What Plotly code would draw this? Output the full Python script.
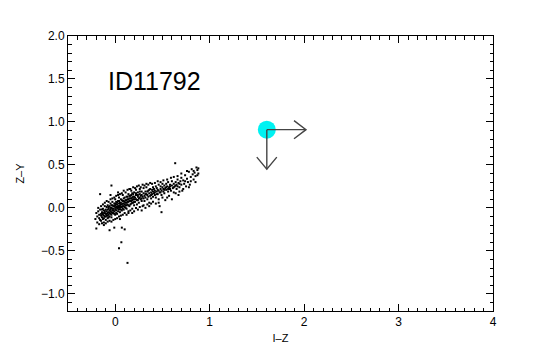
import plotly.graph_objects as go

# I-Z (x) and Z-Y (y) colours of the cloud of points
pts = [
    (-0.21,-0.13),(-0.20,-0.06),(-0.19,-0.10),(-0.18,-0.04),(-0.17,-0.12),(-0.17,-0.08),(-0.16,0.16),(-0.16,-0.02),(-0.15,-0.15),(-0.15,-0.07),(-0.20,-0.24),
    (-0.14,-0.05),(-0.14,-0.11),(-0.13,-0.01),(-0.13,-0.08),(-0.13,-0.13),(-0.12,-0.03),(-0.12,-0.09),(-0.12,-0.17),(-0.11,0.02),(-0.11,-0.06),(-0.11,-0.10),(-0.10,-0.02),(-0.10,-0.07),(-0.10,-0.14),(-0.04,0.26),
    (-0.09,-0.04),(-0.09,0.01),(-0.09,-0.09),(-0.08,-0.06),(-0.08,0.03),(-0.08,-0.12),(-0.07,-0.01),(-0.07,-0.05),(-0.07,-0.08),(-0.06,0.02),(-0.06,-0.03),(-0.06,-0.10),(-0.06,-0.26),(-0.05,0.05),(-0.05,-0.02),(-0.05,-0.07),(-0.05,0.15),
    (-0.04,0.00),(-0.04,-0.05),(-0.04,-0.11),(-0.03,0.03),(-0.03,-0.03),(-0.03,0.07),(-0.02,-0.01),(-0.02,-0.06),(0.03,0.18),(-0.01,0.02),(-0.01,-0.04),(-0.01,-0.23),(0.00,0.05),(0.00,-0.02),(0.00,-0.08),(0.00,0.10),
    (0.01,0.01),(0.01,-0.03),(0.01,0.07),(0.02,0.04),(0.02,-0.01),(0.02,-0.07),(0.03,0.08),(0.03,0.02),(0.07,-0.23),(0.04,-0.47),(0.04,0.05),(0.04,-0.02),(0.04,0.12),(0.05,0.03),(0.05,-0.05),
    (0.06,0.06),(0.06,0.01),(0.065,-0.40),(0.06,0.10),(0.07,0.04),(0.07,-0.03),(0.08,0.08),(0.08,0.02),(0.08,0.15),(0.09,0.05),(0.09,-0.02),(0.09,0.11),(0.10,0.07),(0.10,0.01),(0.10,-0.25),(0.155,0.22),
    (0.11,0.09),(0.11,0.03),(0.12,0.06),(0.12,0.13),(0.12,-0.01),(0.13,-0.64),(0.13,0.10),(0.13,0.04),(0.14,0.07),(0.14,0.16),(0.14,-0.04),(0.15,0.11),(0.15,0.02),
    (0.16,0.08),(0.16,0.14),(0.16,0.22),(0.17,0.05),(0.17,0.11),(0.18,0.09),(0.18,0.17),(0.18,-0.01),(0.19,0.13),(0.19,0.06),(0.20,0.10),(0.20,0.18),(0.20,0.03),
    (0.21,0.12),(0.21,0.07),(0.22,0.15),(0.22,0.21),(0.23,0.09),(0.23,0.04),(0.24,0.13),(0.24,0.18),(0.25,0.11),(0.25,0.06),(0.26,0.16),(0.26,0.22),(0.27,0.10),(0.27,0.14),(0.28,0.19),(0.28,0.08),(0.29,0.13),(0.29,0.02),(0.30,0.17),(0.30,0.11),(0.30,0.23),
    (0.31,0.14),(0.31,0.08),(0.32,0.19),(0.32,0.12),(0.33,0.16),(0.33,0.24),(0.34,0.10),(0.34,0.15),(0.35,0.20),(0.35,0.13),(0.36,0.17),(0.36,0.06),(0.37,0.22),(0.37,0.14),(0.38,0.18),(0.38,0.11),(0.39,0.21),(0.39,0.16),(0.40,0.13),(0.40,0.24),(0.40,0.19),
    (0.41,0.17),(0.41,0.22),(0.42,0.15),(0.42,0.20),(0.43,0.25),(0.43,0.12),(0.44,0.19),(0.44,0.23),(0.45,0.16),(0.45,0.21),(0.46,0.27),(0.46,0.06),(0.47,0.18),(0.47,0.02),(0.48,0.22),(0.48,0.25),(0.49,0.15),(0.49,0.20),(0.50,0.24),(0.50,0.28),
    (0.51,0.19),(0.51,0.22),(0.52,0.26),(0.52,0.17),(0.53,0.23),(0.54,0.21),(0.54,0.28),(0.55,0.25),(0.55,0.12),(0.56,0.19),(0.56,0.30),(0.57,0.24),(0.58,0.22),(0.58,0.27),(0.59,0.20),(0.60,0.26),(0.60,0.31),
    (0.61,0.23),(0.62,0.28),(0.62,0.18),(0.635,0.52),(0.63,0.25),(0.64,0.30),(0.65,0.22),(0.65,0.27),(0.66,0.33),(0.67,0.15),(0.67,0.29),(0.68,0.24),(0.69,0.31),(0.70,0.27),(0.70,0.35),
    (0.71,0.20),(0.72,0.32),(0.73,0.28),(0.74,0.38),(0.75,0.25),(0.76,0.34),(0.77,0.30),(0.78,0.42),(0.79,0.27),(0.80,0.36),(0.82,0.39),(0.83,0.33),(0.84,0.41),(0.85,0.37),(0.86,0.47),(0.87,0.44),(0.88,0.40),
    (-0.15,-0.09),(-0.14,-0.02),(-0.13,-0.06),(-0.12,-0.12),(-0.11,-0.04),(-0.10,-0.10),(-0.09,-0.07),(-0.08,-0.02),(-0.08,-0.09),(-0.07,0.01),(-0.07,-0.11),(-0.06,-0.06),(-0.05,-0.04),(-0.05,0.00),(-0.04,-0.08),(-0.04,0.03),
    (-0.03,-0.01),(-0.03,-0.06),(-0.02,0.02),(-0.02,-0.03),(-0.01,0.05),(-0.01,-0.07),(0.00,0.00),(0.00,0.03),(0.01,0.04),(0.01,-0.06),(0.02,0.06),(0.02,0.01),(0.03,0.00),(0.03,-0.04),(0.04,0.08),(0.04,0.02),
    (0.05,0.06),(0.05,0.00),(0.06,0.04),(0.06,-0.02),(0.07,0.09),(0.07,0.01),(0.08,0.05),(0.08,-0.01),(0.09,0.08),(0.09,0.02),(0.10,0.04),(0.10,0.12),(0.11,0.06),(0.11,0.00),(0.12,0.09),(0.12,0.03),
    (0.13,0.07),(0.13,0.13),(0.14,0.10),(0.14,0.03),(0.15,0.08),(0.15,0.14),(0.16,0.11),(0.16,0.04),(0.17,0.08),(0.17,0.15),(0.18,0.12),(0.18,0.06),(0.19,0.10),(0.19,0.16),(0.20,0.07),(0.20,0.13),
    (0.22,0.10),(0.22,0.17),(0.24,0.15),(0.24,0.09),(0.26,0.12),(0.26,0.19),(0.28,0.15),(0.28,0.11),(0.32,0.16),(0.34,0.19),(0.36,0.21),(0.38,0.15),(0.42,0.18),(0.44,0.16),(0.46,0.20),(0.48,0.18),
    (0.52,0.21),(0.54,0.24),(0.56,0.22),(0.58,0.25),(0.62,0.24),(0.64,0.26),(0.66,0.25),(0.68,0.28),
    (-0.19,-0.17),(-0.18,0.00),(-0.17,-0.19),(-0.16,-0.14),(-0.15,0.02),(-0.14,-0.18),(-0.13,0.04),(-0.12,-0.20),(-0.11,0.06),(-0.10,-0.18),(-0.09,0.08),(-0.08,-0.16),(-0.07,0.07),(-0.06,-0.15),(-0.05,0.10),(-0.04,-0.16),
    (-0.03,0.11),(-0.02,-0.14),(-0.01,0.12),(0.00,-0.13),(0.01,0.14),(0.02,-0.12),(0.03,0.15),(0.04,-0.10),(0.05,0.16),(0.05,-0.13),
    (0.06,-0.09),(0.07,0.17),(0.08,-0.08),(0.09,0.20),(0.10,-0.06),(0.11,0.18),(0.12,-0.08),(0.13,0.21),(0.14,-0.06),(0.15,0.22),(0.16,-0.03),(0.17,0.20),(0.18,-0.06),(0.19,0.24),(0.20,-0.04),(0.21,0.23),
    (0.22,0.00),(0.23,0.25),(0.24,-0.02),(0.25,0.26),(0.26,0.01),(0.27,0.24),(0.28,-0.03),(0.29,0.27),(0.30,0.03),(0.31,0.26),(0.32,0.00),(0.33,0.28),(0.34,0.04),(0.35,0.27),(0.36,0.02),(0.37,0.29),(0.38,0.05),(0.39,0.28),(0.40,0.07),
    (0.42,0.29),(0.43,0.05),(0.45,0.31),(0.46,0.10),(0.48,0.30),(0.49,-0.05),(0.50,0.12),(0.51,0.32),(0.53,0.09),(0.55,0.33),(0.57,0.14),(0.59,0.35),(0.60,0.10),(0.62,0.36),(0.64,0.17),(0.66,0.37),
    (0.68,0.19),(0.70,0.40),(0.72,0.22),(0.74,0.31),(0.76,0.43),(0.78,0.24),(0.80,0.31),(0.81,0.45),(0.83,0.43),(0.85,0.30),(0.87,0.38),(0.88,0.46),
]
cloud_x = [p[0] for p in pts]
cloud_y = [p[1] for p in pts]

# the object (cyan marker) and its arrow ends
obj_x = [1.605]
obj_y = [0.91]
arrow_right_end = 2.02
arrow_down_end = 0.45
label = "ID11792"

x_ticks = [0, 1, 2, 3, 4]
y_ticks = [-1.0, -0.5, 0.0, 0.5, 1.0, 1.5, 2.0]

FONT = "Liberation Sans, Arial, Helvetica, sans-serif"

fig = go.Figure()
fig.add_trace(go.Scatter(x=cloud_x, y=cloud_y, mode="markers",
                         marker=dict(symbol="square", size=2.0, color="black", line=dict(width=0)),
                         hoverinfo="skip"))
fig.add_trace(go.Scatter(x=obj_x, y=obj_y, mode="markers",
                         marker=dict(size=18, color="#00f2f2", line=dict(width=0))))

ox, oy = obj_x[0], obj_y[0]
hx, hy = 0.127, 0.105   # right-arrow head half-extent
vx, vy = 0.106, 0.14    # down-arrow head half-extent
arrow_col = "#444444"
fig.add_trace(go.Scatter(x=[ox, arrow_right_end, None, arrow_right_end - hx, arrow_right_end, arrow_right_end - hx],
                         y=[oy, oy, None, oy + hy, oy, oy - hy],
                         mode="lines", line=dict(color=arrow_col, width=1.4)))
fig.add_trace(go.Scatter(x=[ox, ox, None, ox - vx, ox, ox + vx],
                         y=[oy, arrow_down_end, None, arrow_down_end + vy, arrow_down_end, arrow_down_end + vy],
                         mode="lines", line=dict(color=arrow_col, width=1.4)))

fig.add_annotation(x=-0.1, y=1.48, text=label, showarrow=False, xanchor="left", yanchor="middle",
                   font=dict(size=25, color="black", family=FONT))

axis_common = dict(showline=True, linecolor="black", linewidth=1, mirror="ticks",
                   ticks="inside", ticklen=7, tickwidth=1, tickcolor="black",
                   showgrid=False, zeroline=False, automargin=False,
                   tickfont=dict(size=12, color="black", family=FONT),
                   minor=dict(ticks="inside", ticklen=3.5, tickwidth=1, tickcolor="black", dtick=0.1, showgrid=False))

fig.update_layout(
    width=550, height=350, autosize=False,
    margin=dict(l=60, r=65, t=28, b=47),
    paper_bgcolor="white", plot_bgcolor="white",
    showlegend=False,
    xaxis=dict(range=[-0.5, 4], tickvals=x_ticks, ticktext=[str(v) for v in x_ticks],
               title=dict(text="I–Z", standoff=5, font=dict(size=11, color="black", family=FONT)),
               **axis_common),
    yaxis=dict(range=[-1.2, 2.0], tickvals=y_ticks, tickformat=".1f",
               title=dict(text="Z–Y", standoff=14, font=dict(size=11, color="black", family=FONT)),
               **axis_common),
)
fig.update_xaxes(minor_tick0=0)
fig.update_yaxes(minor_tick0=0)

fig.write_html("out.html")
